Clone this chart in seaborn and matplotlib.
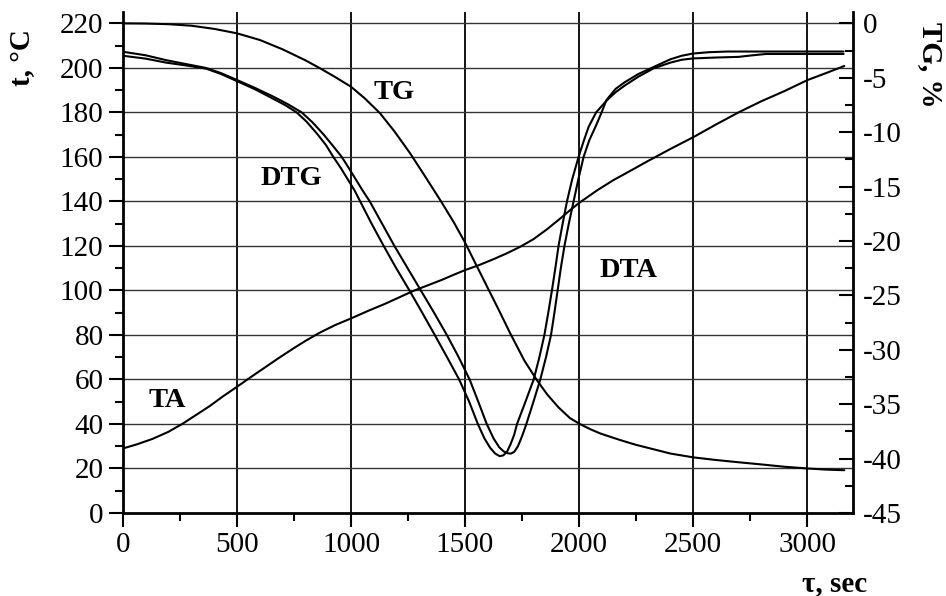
import numpy as np
import seaborn as sns
import matplotlib.pyplot as plt
from matplotlib.ticker import MultipleLocator

sns.set_theme(style="white")
plt.rcParams['font.family'] = ['Liberation Serif', 'DejaVu Serif']
plt.rcParams['axes.unicode_minus'] = False
plt.rcParams['text.color'] = 'black'
plt.rcParams['axes.labelcolor'] = 'black'
plt.rcParams['xtick.color'] = 'black'
plt.rcParams['ytick.color'] = 'black'

# TA, temperature (left axis, deg C) vs time, sec
ta_time = [0, 60, 130, 200, 263, 320, 380, 440, 500, 560, 620, 680, 750, 800, 863, 930,
           1000, 1075, 1150, 1210, 1274, 1340, 1400, 1450, 1500, 1560, 1620, 1680, 1742,
           1800, 1860, 1920, 1960, 2003, 2080, 2150, 2230, 2300, 2400, 2504, 2600, 2700,
           2800, 2900, 3002, 3080, 3163]
ta_temp = [29.0, 30.8, 33.3, 36.5, 40.2, 44.0, 48.0, 52.5, 56.7, 61.0, 65.2, 69.4, 74.1,
           77.3, 81.0, 84.4, 87.4, 90.8, 94.0, 96.8, 99.8, 102.4, 104.8, 107.0, 109.1,
           111.3, 113.8, 116.5, 119.6, 123.0, 127.5, 132.5, 136.0, 139.5, 145.0, 149.5,
           154.0, 158.0, 163.5, 169.0, 174.5, 180.0, 185.0, 189.5, 194.5, 197.5, 200.8]

# TG, mass loss % (right axis)
tg_time = [0, 100, 200, 300, 400, 500, 600, 700, 800, 864, 930, 1000, 1060, 1127, 1190,
           1259, 1320, 1391, 1450, 1500, 1550, 1600, 1650, 1698, 1760, 1815, 1860, 1910,
           1960, 2003, 2050, 2094, 2140, 2182, 2250, 2320, 2401, 2501, 2600, 2700, 2800,
           2900, 3002, 3080, 3163]
tg_pct = [0, -0.02, -0.08, -0.22, -0.51, -0.92, -1.53, -2.39, -3.40, -4.13, -4.93, -5.83,
          -6.89, -8.26, -9.92, -11.94, -13.91, -16.24, -18.26, -20.15, -22.25, -24.34,
          -26.43, -28.49, -30.99, -32.79, -34.10, -35.30, -36.28, -36.82, -37.31, -37.70,
          -38.02, -38.31, -38.74, -39.11, -39.54, -39.89, -40.13, -40.34, -40.54, -40.75,
          -40.91, -41.01, -41.07]

# DTG (left axis scale)
dtg_time = [0, 100, 190, 280, 365, 430, 500, 580, 660, 710, 761, 805, 850, 890, 922, 955,
            985, 1015, 1040, 1090, 1143, 1198, 1256, 1312, 1367, 1421, 1474, 1518, 1556,
            1585, 1610, 1632, 1652, 1668, 1684, 1700, 1715, 1728, 1765, 1801, 1826, 1848,
            1865, 1881, 1896, 1910, 1928, 1947, 1970, 1998, 2020, 2042, 2075, 2123, 2160,
            2200, 2260, 2328, 2400, 2450, 2500, 2600, 2700, 2760, 2820, 2900, 3000, 3160]
dtg_val = [205.4, 204.1, 202.3, 201.0, 199.6, 197.2, 194.0, 190.3, 186.0, 183.3, 180.0,
           175.8, 170.5, 165.3, 160.0, 155.0, 150.0, 145.0, 140.0, 130.0, 120.0, 110.0,
           100.0, 90.0, 80.0, 70.0, 60.0, 50.0, 40.0, 33.5, 29.3, 26.7, 25.5, 25.9, 27.5,
           31.0, 35.0, 40.0, 50.0, 60.0, 70.0, 80.0, 90.0, 100.0, 110.0, 120.0, 130.0,
           140.0, 150.0, 160.0, 167.0, 173.5, 180.0, 185.5, 189.0, 192.0, 196.0, 199.8,
           202.3, 203.6, 204.2, 204.6, 204.9, 205.6, 206.2, 206.2, 206.2, 206.2]

# DTA (left axis scale)
dta_time = [0, 100, 190, 280, 365, 430, 500, 580, 660, 720, 783, 830, 880, 920, 959, 990,
            1020, 1050, 1082, 1136, 1190, 1248, 1306, 1364, 1420, 1472, 1520, 1558, 1595,
            1625, 1650, 1670, 1688, 1702, 1716, 1732, 1750, 1769, 1800, 1830, 1855, 1877,
            1892, 1906, 1920, 1936, 1955, 1976, 1997, 2020, 2045, 2072, 2095, 2120, 2160,
            2200, 2260, 2328, 2400, 2450, 2500, 2570, 2650, 3000, 3160]
dta_val = [207.2, 205.6, 203.4, 201.6, 199.9, 197.6, 194.5, 190.9, 187.0, 183.8, 180.0,
           175.6, 170.0, 165.0, 160.0, 155.0, 150.0, 145.0, 140.0, 130.0, 120.0, 110.0,
           100.0, 90.0, 80.0, 70.0, 60.0, 50.0, 40.0, 33.5, 29.5, 27.6, 26.8, 26.7, 27.5,
           30.0, 34.5, 40.0, 50.0, 60.0, 70.0, 80.0, 90.0, 100.0, 110.0, 120.0, 130.0,
           140.0, 150.0, 160.0, 167.5, 173.5, 179.0, 185.5, 190.5, 193.5, 197.2, 200.4,
           203.8, 205.4, 206.4, 207.0, 207.3, 207.3, 207.3]

fig = plt.figure(figsize=(9.46, 5.96), dpi=100)
ax = fig.add_axes([0.130, 0.1393, 0.7714, 0.8411])
ax2 = ax.twinx()

lw = 1.5
sns.lineplot(x=ta_time, y=ta_temp, ax=ax, color='black', lw=lw)
sns.lineplot(x=dtg_time, y=dtg_val, ax=ax, color='black', lw=lw)
sns.lineplot(x=dta_time, y=dta_val, ax=ax, color='black', lw=lw)
sns.lineplot(x=tg_time, y=tg_pct, ax=ax2, color='black', lw=lw)

ax.set_xlim(0, 3200)
ax.set_ylim(0, 225.2)
ax2.set_ylim(-45, 1.07)

ax.xaxis.set_major_locator(MultipleLocator(500))
ax.xaxis.set_minor_locator(MultipleLocator(250))
ax.yaxis.set_minor_locator(MultipleLocator(10))
ax.set_yticks(np.arange(0, 221, 20))
ax2.yaxis.set_minor_locator(MultipleLocator(2.5))
ax2.set_yticks(np.arange(-45, 1, 5))

for x in range(500, 3001, 500):
    ax.axvline(x, color='black', lw=1.3, zorder=0.5)
for y in range(20, 221, 20):
    ax.axhline(y, color='#333333', lw=1.0, zorder=0.5)

ax.tick_params(axis='both', which='major', direction='out', length=10, width=1.5,
               labelsize=21, left=True, bottom=True, pad=4)
ax.tick_params(axis='both', which='minor', direction='out', length=5.5, width=1.5,
               left=True, bottom=True)
ax2.tick_params(axis='y', which='major', direction='in', length=10, width=1.5,
                labelsize=21, right=True, pad=7)
ax2.tick_params(axis='y', which='minor', direction='in', length=5.5, width=1.5, right=True)

for a in (ax, ax2):
    a.spines['top'].set_visible(False)
    for s in ('left', 'bottom', 'right'):
        a.spines[s].set_linewidth(2)
        a.spines[s].set_color('black')
ax.spines['right'].set_visible(False)
ax2.spines['left'].set_visible(False)
ax2.spines['bottom'].set_visible(False)

ax.text(-0.137, 0.909, 't, °C', transform=ax.transAxes, fontsize=21, fontweight='bold',
        rotation=90, ha='center', va='center')
ax.text(1.106, 0.894, 'TG, %', transform=ax.transAxes, fontsize=21, fontweight='bold',
        rotation=270, ha='center', va='center')
ax.text(0.975, -0.1416, 'τ, sec', transform=ax.transAxes, fontsize=21, fontweight='bold',
        ha='center', va='center')

lab = dict(fontsize=20.5, fontweight='bold', ha='center', va='center')
ax.text(1189, 189, 'TG', **lab)
ax.text(739, 150.3, 'DTG', **lab)
ax.text(2218, 109, 'DTA', **lab)
ax.text(195, 50.7, 'TA', **lab)

fig.savefig('out.png', dpi=100)
